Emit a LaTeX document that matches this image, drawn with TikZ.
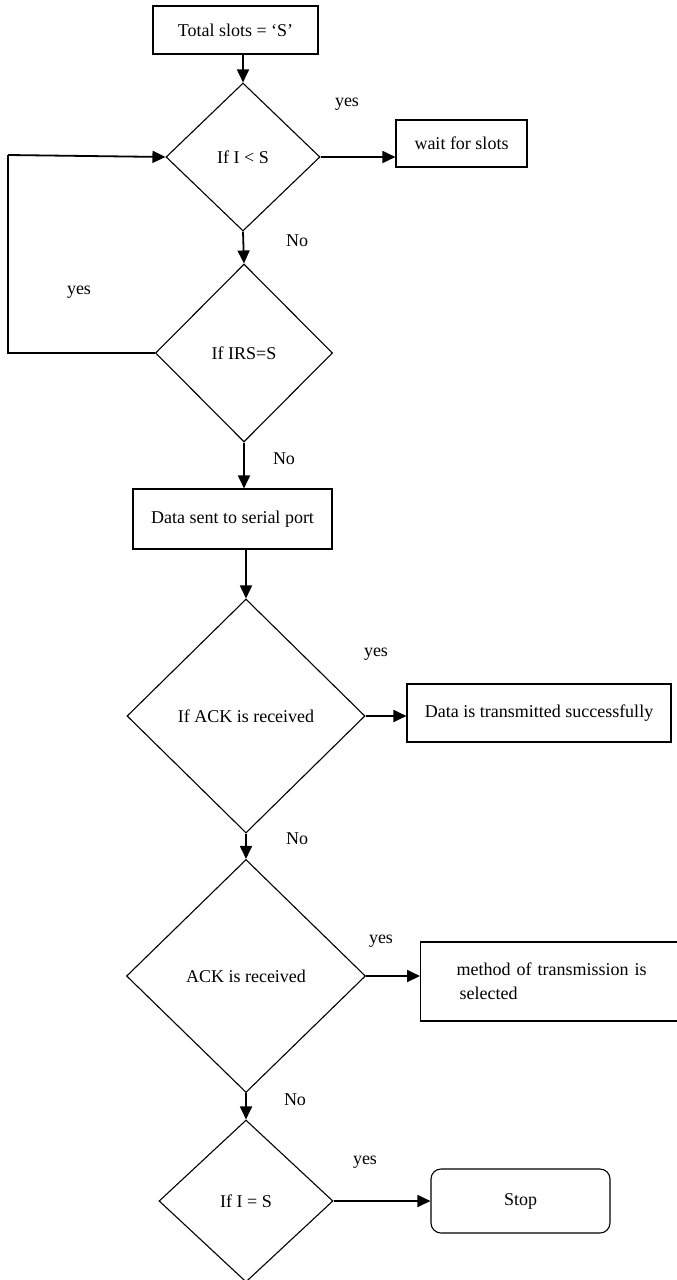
\documentclass[tikz,border=0pt]{standalone}
\usepackage{fontspec}
\setmainfont{Liberation Serif}
\usetikzlibrary{arrows.meta,shapes.geometric}

\begin{document}
\begin{tikzpicture}[x=1pt,y=1pt,
		font=\fontsize{18}{24}\selectfont,
		block/.style={draw,line width=1.1pt,rectangle,inner sep=0pt},
		decision/.style={draw,line width=1.1pt,diamond,inner sep=0pt},
		flow/.style={line width=1.8pt,-{Triangle[length=13pt,width=12pt]}},
		thinline/.style={line width=1.1pt}]
		
			\clip (0,0) rectangle (677,-1280);
			
			\node[block,minimum width=165,minimum height=48] (total) at (235.5,-30) {Total slots = ‘S’};
			\node[decision,minimum width=154,minimum height=148] (ilts) at (243,-157) {If I < S};
			\node[block,minimum width=131,minimum height=47] (wait) at (461.5,-143.5) {wait for slots};
			\node[decision,minimum width=177,minimum height=178] (irs) at (244,-353) {If IRS=S};
			\node[block,minimum width=199,minimum height=60] (serial) at (232.5,-519) {Data sent to serial port};
			\node[decision,minimum width=238,minimum height=234] (ack) at (246,-716) {If ACK is received};
			\node[block,minimum width=264,minimum height=58] (done) at (539,-713) {Data is transmitted successfully};
			\node[decision,minimum width=239,minimum height=233] (ackrx) at (246,-976) {ACK is received};
			\node[block,anchor=west,align=left,text width=190,inner xsep=36pt,minimum height=79] (method) at (420,-981.5) {method of transmission is\\ \hspace*{3pt}selected};
			\node[decision,minimum width=174,minimum height=162] (ieqs) at (246,-1201) {If I = S};
			\node[block,rounded corners=10pt,minimum width=179,minimum height=64] (stop) at (520.5,-1201) {Stop};
			
			% yes / No labels
			\node (y1) at (347,-104) {yes};
			\node (n1) at (297,-241) {No};
			\node (y2) at (79,-292) {yes};
			\node (n2) at (284,-459) {No};
			\node (y3) at (376,-654) {yes};
			\node (n3) at (297,-839) {No};
			\node (y4) at (381,-941) {yes};
			\node (n4) at (295,-1100) {No};
			\node (y5) at (365,-1162) {yes};
			
			\coordinate (loop) at (8,-155);
			
			\draw[flow] (total.south -| ilts.north) -- (ilts.north);
			\draw[flow] (ilts.east) -- (ilts.east -| wait.west);
			\draw[flow] (ilts.south) -- (irs.north);
			
			\draw[thinline] (irs.west) -| (loop);
			\draw[flow] (loop) -- (ilts.west);
			
			\draw[flow] (irs.south) -- (irs.south |- serial.north);
			\draw[flow] (serial.south -| ack.north) -- (ack.north);
			\draw[flow] (ack.east) -- (ack.east -| done.west);
			\draw[flow] (ack.south) -- (ackrx.north);
			\draw[flow] (ackrx.east) -- (ackrx.east -| method.west);
			\draw[flow] (ackrx.south) -- (ieqs.north);
			\draw[flow] (ieqs.east) -- (stop.west);

		\end{tikzpicture}
\end{document}
